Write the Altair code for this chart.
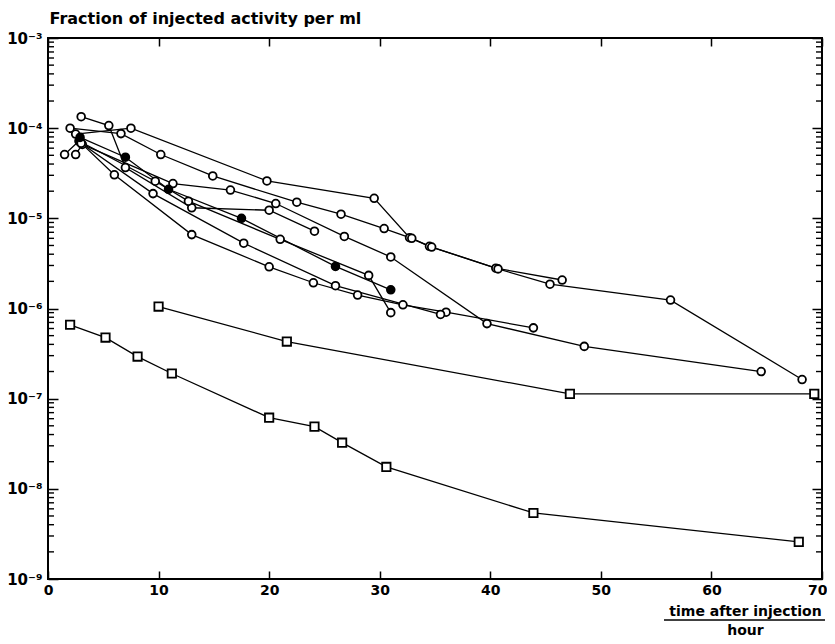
import altair as alt
import pandas as pd

# ---- data (hours after injection, fraction of injected activity per ml) ----
s1_hours = [2.5, 7.5, 19.8, 29.5, 32.7, 34.5, 40.5, 46.5]
s1_frac = [8.6e-5, 1.0e-4, 2.6e-5, 1.67e-5, 6.1e-6, 4.9e-6, 2.8e-6, 2.07e-6]

s2_hours = [2.0, 6.6, 10.2, 14.9, 22.5, 26.5, 30.4, 32.9, 34.7, 40.7, 45.4, 56.3, 68.2]
s2_frac = [1.0e-4, 8.7e-5, 5.1e-5, 2.95e-5, 1.51e-5, 1.11e-5, 7.7e-6, 6.0e-6, 4.8e-6, 2.75e-6, 1.86e-6, 1.24e-6, 1.63e-7]

s3_hours = [3.0, 5.5, 7.0, 13.0, 20.0, 24.1]
s3_frac = [1.34e-4, 1.07e-4, 3.66e-5, 1.31e-5, 1.23e-5, 7.2e-6]

s4_hours = [2.9, 7.0, 10.9, 17.5, 26.0, 31.0]          # filled circles
s4_frac = [7.9e-5, 4.76e-5, 2.1e-5, 1.0e-5, 2.93e-6, 1.61e-6]

s5_hours = [1.5, 2.8, 9.7, 12.7, 21.0, 29.0, 31.0]
s5_frac = [5.1e-5, 7.2e-5, 2.58e-5, 1.55e-5, 5.85e-6, 2.33e-6, 9.0e-7]

s6_hours = [2.5, 3.1, 11.3, 16.5, 20.6, 26.8, 31.0, 39.7, 48.5, 64.5]
s6_frac = [5.1e-5, 6.6e-5, 2.43e-5, 2.06e-5, 1.46e-5, 6.3e-6, 3.73e-6, 6.8e-7, 3.8e-7, 2.0e-7]

s7_hours = [2.9, 6.0, 13.0, 20.0, 24.0, 28.0, 32.1, 36.0, 43.9]
s7_frac = [7.0e-5, 3.04e-5, 6.6e-6, 2.9e-6, 1.93e-6, 1.41e-6, 1.1e-6, 9.1e-7, 6.1e-7]

s8_hours = [3.0, 9.5, 17.7, 26.0, 35.5]
s8_frac = [6.8e-5, 1.88e-5, 5.3e-6, 1.79e-6, 8.6e-7]

sq1_hours = [2.0, 5.2, 8.1, 11.2, 20.0, 24.1, 26.6, 30.6, 43.9, 67.9]
sq1_frac = [6.6e-7, 4.76e-7, 2.93e-7, 1.9e-7, 6.15e-8, 4.9e-8, 3.25e-8, 1.75e-8, 5.4e-9, 2.58e-9]

sq2_hours = [10.0, 21.6, 47.2, 69.3]
sq2_frac = [1.05e-6, 4.3e-7, 1.13e-7, 1.13e-7]

x_ticks = [0, 10, 20, 30, 40, 50, 60, 70]
y_major = [1e-9, 1e-8, 1e-7, 1e-6, 1e-5, 1e-4, 1e-3]
y_minor = [m * 10.0 ** e for e in range(-9, -3) for m in range(2, 10)]
sup_labels = ["10\u207b\u2079", "10\u207b\u2078", "10\u207b\u2077", "10\u207b\u2076",
              "10\u207b\u2075", "10\u207b\u2074", "10\u207b\u00b3"]

series = [
    ("s1", s1_hours, s1_frac, "open"),
    ("s2", s2_hours, s2_frac, "open"),
    ("s3", s3_hours, s3_frac, "open"),
    ("s4", s4_hours, s4_frac, "filled"),
    ("s5", s5_hours, s5_frac, "open"),
    ("s6", s6_hours, s6_frac, "open"),
    ("s7", s7_hours, s7_frac, "open"),
    ("s8", s8_hours, s8_frac, "open"),
    ("sq1", sq1_hours, sq1_frac, "square"),
    ("sq2", sq2_hours, sq2_frac, "square"),
]
rows = []
for name, hs, fs, marker in series:
    for i, (h, f) in enumerate(zip(hs, fs)):
        rows.append({"series": name, "hours": h, "frac": f, "marker": marker, "idx": i})
df = pd.DataFrame(rows)
minor_df = pd.DataFrame({"frac": y_minor})

W, H = 774, 541
FONT = "DejaVu Sans"

log10 = "(log(datum.value)/LN10)"
label_arr = "[" + ",".join(f"'{s}'" for s in sup_labels) + "]"
y_label_expr = f"{label_arr}[round({log10}) + 9]"

x_enc = alt.X(
    "hours:Q",
    scale=alt.Scale(domain=[0, 70], nice=False, zero=False),
    axis=alt.Axis(
        values=x_ticks, format="d", domain=False, ticks=False,
        labelFont=FONT, labelFontSize=14, labelFontWeight="bold", labelColor="black",
        labelPadding=4, labelFlush=False, labelOverlap=False,
        labelAlign={"condition": {"test": "datum.value == 70", "value": "right"}, "value": "center"},
        labelOffset={"condition": {"test": "datum.value == 70", "value": 5}, "value": 0},
        grid=True, gridColor="black", gridWidth=1.5, gridOpacity=1,
        gridDash=[8, H - 16, 8, 3000],
        title=["time after injection", "hour"],
        titleFont=FONT, titleFontSize=14, titleFontWeight="bold", titleColor="black",
        titleX=697, titleY=36, titleAlign="center", titleBaseline="alphabetic",
        titleLineHeight=19,
    ),
)
y_enc = alt.Y(
    "frac:Q",
    scale=alt.Scale(type="log", domain=[1e-9, 1e-3], nice=False),
    axis=alt.Axis(
        values=y_major, domain=False, ticks=False,
        labelExpr=y_label_expr,
        labelFont=FONT, labelFontSize=15, labelFontWeight="bold", labelColor="black",
        labelPadding=6, labelFlush=False, labelOverlap=False, labelBaseline="middle",
        grid=True, gridColor="black", gridWidth=1.5, gridOpacity=1,
        gridDash=[10, W - 20, 10, 3000],
        title="Fraction of injected activity per ml",
        titleFont=FONT, titleFontSize=16, titleFontWeight="bold", titleColor="black",
        titleAngle=0, titleAlign="left", titleBaseline="alphabetic",
        titleX=1, titleY=-15,
    ),
)

base = alt.Chart(df).encode(x=x_enc, y=y_enc)

lines = base.mark_line(color="black", strokeWidth=1.3).encode(
    detail="series:N", order="idx:Q"
)
open_pts = base.transform_filter("datum.marker == 'open'").mark_point(
    shape="circle", size=60, filled=True, fill="white", stroke="black",
    strokeWidth=1.8, opacity=1
)
filled_pts = base.transform_filter("datum.marker == 'filled'").mark_point(
    shape="circle", size=60, filled=True, fill="black", stroke="black",
    strokeWidth=1.8, opacity=1
)
square_pts = base.transform_filter("datum.marker == 'square'").mark_point(
    shape="square", size=70, filled=True, fill="white", stroke="black",
    strokeWidth=1.8, opacity=1
)

# minor log ticks, inside the frame on the left and right edges
minor_left = alt.Chart(minor_df).mark_rule(color="black", strokeWidth=1.4).encode(
    y=y_enc, x=alt.value(0), x2=alt.value(6)
)
minor_right = alt.Chart(minor_df).mark_rule(color="black", strokeWidth=1.4).encode(
    y=y_enc, x=alt.value(W - 6), x2=alt.value(W)
)

frac_bar = alt.Chart(pd.DataFrame({"k": [0]})).mark_rule(
    color="black", strokeWidth=1.5
).encode(x=alt.value(616), x2=alt.value(777), y=alt.value(582))

chart = alt.layer(lines, open_pts, filled_pts, square_pts, minor_left, minor_right,
                  frac_bar).properties(
    width=W, height=H,
    autosize=alt.AutoSizeParams(type="none"),
    padding={"left": 40, "top": 30, "right": 5, "bottom": 57},
    background="white",
).configure_view(stroke="black", strokeWidth=2)

chart.save("out.html", embed_options={"renderer": "svg", "actions": False})
